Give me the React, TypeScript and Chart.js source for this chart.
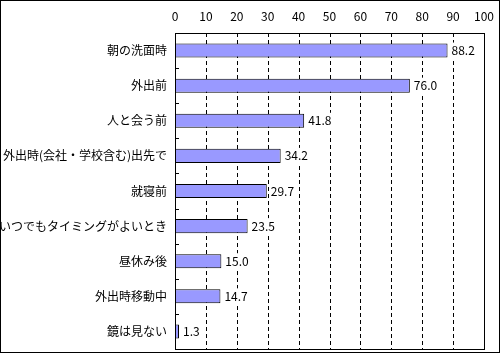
import React, { useEffect, useRef } from "react";
import { Chart, registerables } from "chart.js";

Chart.register(...registerables);

const categories = [
  "朝の洗面時",
  "外出前",
  "人と会う前",
  "外出時(会社・学校含む)出先で",
  "就寝前",
  "いつでもタイミングがよいとき",
  "昼休み後",
  "外出時移動中",
  "鏡は見ない",
];
const values = [88.2, 76.0, 41.8, 34.2, 29.7, 23.5, 15.0, 14.7, 1.3];
const xTicks = [0, 10, 20, 30, 40, 50, 60, 70, 80, 90, 100];

const FONT = "'Noto Sans CJK JP', sans-serif";

const decor = {
  id: "decor",
  beforeDatasetsDraw(chart: any) {
    const ctx = chart.ctx;
    const { top, bottom } = chart.chartArea;
    const xs = chart.scales.x;
    ctx.save();
    ctx.strokeStyle = "#000";
    ctx.lineWidth = 1;
    ctx.setLineDash([4, 3]);
    xTicks.forEach((v) => {
      if (v === 0 || v === 100) return;
      const x = Math.round(xs.getPixelForValue(v)) + 0.5;
      ctx.beginPath();
      ctx.moveTo(x, Math.round(top));
      ctx.lineTo(x, Math.round(bottom));
      ctx.stroke();
    });
    ctx.restore();
  },
  afterDatasetsDraw(chart: any) {
    const ctx = chart.ctx;
    const { left, right, top, bottom } = chart.chartArea;
    ctx.save();
    ctx.strokeStyle = "#000";
    ctx.lineWidth = 1;
    ctx.setLineDash([]);
    ctx.strokeRect(Math.round(left) + 0.5, Math.round(top) + 0.5, Math.round(right - left), Math.round(bottom - top));
    const n = categories.length;
    const h = (bottom - top) / n;
    for (let i = 1; i < n; i++) {
      const y = Math.round(top + h * i) + 0.5;
      ctx.beginPath();
      ctx.moveTo(Math.round(left), y);
      ctx.lineTo(Math.round(left) + 4, y);
      ctx.stroke();
    }
    const meta = chart.getDatasetMeta(0);
    ctx.font = `12px ${FONT}`;
    ctx.textAlign = "left";
    ctx.textBaseline = "middle";
    meta.data.forEach((bar: any, i: number) => {
      const t = values[i].toFixed(1);
      const w = ctx.measureText(t).width;
      const x = bar.x + 3;
      ctx.fillStyle = "#fff";
      ctx.fillRect(x, bar.y - 8, w + 2, 16);
      ctx.fillStyle = "#000";
      ctx.fillText(t, x + 1, bar.y);
    });
    ctx.strokeRect(0.5, 0.5, chart.width - 1, chart.height - 1);
    ctx.restore();
  },
};

export default function App() {
  const ref = useRef<HTMLCanvasElement | null>(null);
  useEffect(() => {
    document.body.style.margin = "0";
    const chart = new Chart(ref.current!, {
      type: "bar",
      data: {
        labels: categories,
        datasets: [
          {
            data: values,
            backgroundColor: "#9999FF",
            borderColor: "#000",
            borderWidth: 1,
            borderSkipped: false,
            barPercentage: 0.4,
            categoryPercentage: 1,
          },
        ],
      },
      options: {
        indexAxis: "y",
        animation: false,
        responsive: false,
        devicePixelRatio: 1,
        layout: { padding: { left: 0, top: 0, right: 16, bottom: 4 } },
        plugins: { legend: { display: false }, tooltip: { enabled: false } },
        scales: {
          x: {
            position: "top",
            min: 0,
            max: 100,
            afterFit(scale: any) {
              scale.height = 33;
              scale.paddingLeft = 0;
              scale.paddingRight = 0;
            },
            afterBuildTicks(scale: any) {
              scale.ticks = xTicks.map((v) => ({ value: v }));
            },
            ticks: {
              color: "#000",
              font: { family: FONT, size: 12 },
              padding: 9,
            },
            grid: { display: false, drawTicks: false },
            border: { display: false },
          },
          y: {
            afterFit(scale: any) {
              scale.width = 175;
              scale.paddingTop = 0;
              scale.paddingBottom = 0;
            },
            ticks: {
              color: "#000",
              font: { family: FONT, size: 12 },
              padding: 8,
              autoSkip: false,
            },
            grid: { display: false, drawTicks: false },
            border: { display: false },
          },
        },
      } as any,
      plugins: [decor],
    });
    return () => chart.destroy();
  }, []);
  return <canvas ref={ref} width={500} height={353} style={{ display: "block" }} />;
}
